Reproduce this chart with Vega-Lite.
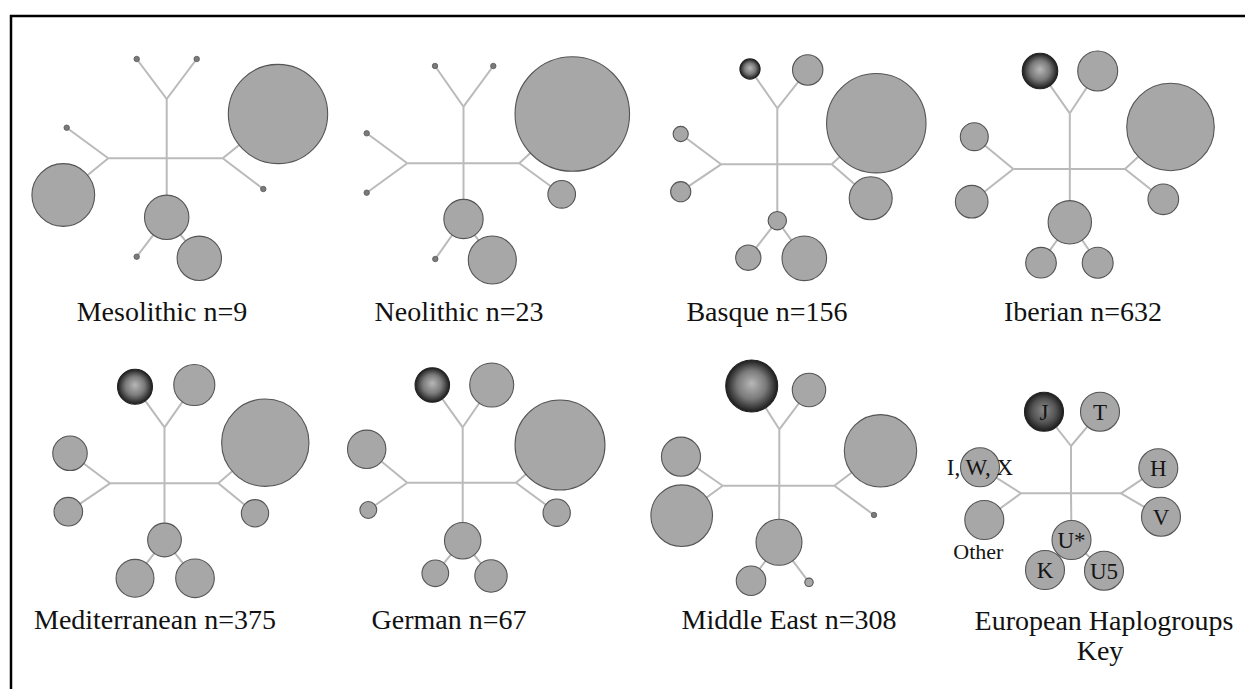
{
  "$schema": "https://vega.github.io/schema/vega-lite/v6.json",
  "width": 1245,
  "height": 689,
  "autosize": {"type": "fit", "contains": "padding"},
  "padding": {"left": 11, "top": 16, "right": -3, "bottom": -3},
  "background": "white",
  "config": {"view": {"stroke": "#000000", "strokeWidth": 2.5}},
  "datasets": {
    "nodes": [
      {"id": "me.hub", "p": "Mesolithic", "x": 166.7, "y": 158.3},
      {"id": "me.tf", "p": "Mesolithic", "parent": "me.hub", "x": 166.7, "y": 99},
      {"id": "me.lf", "p": "Mesolithic", "parent": "me.hub", "x": 108.3, "y": 158.3},
      {"id": "me.rf", "p": "Mesolithic", "parent": "me.hub", "x": 222.7, "y": 158.3},
      {"id": "me.J", "p": "Mesolithic", "hg": "J", "parent": "me.tf", "x": 136.7, "y": 59, "f": 0},
      {"id": "me.T", "p": "Mesolithic", "hg": "T", "parent": "me.tf", "x": 196.7, "y": 59, "f": 0},
      {"id": "me.IWX", "p": "Mesolithic", "hg": "I, W, X", "parent": "me.lf", "x": 66.7, "y": 127.7, "f": 0},
      {"id": "me.O", "p": "Mesolithic", "hg": "Other", "parent": "me.lf", "x": 63.3, "y": 195, "f": 22.2},
      {"id": "me.H", "p": "Mesolithic", "hg": "H", "parent": "me.rf", "x": 278, "y": 114, "f": 55.6},
      {"id": "me.V", "p": "Mesolithic", "hg": "V", "parent": "me.rf", "x": 263.3, "y": 189, "f": 0},
      {"id": "me.U", "p": "Mesolithic", "hg": "U*", "parent": "me.hub", "x": 166.7, "y": 217.3, "f": 11.1},
      {"id": "me.K", "p": "Mesolithic", "hg": "K", "parent": "me.U", "x": 136.7, "y": 256.7, "f": 0},
      {"id": "me.U5", "p": "Mesolithic", "hg": "U5", "parent": "me.U", "x": 199.3, "y": 258.3, "f": 11.1},

      {"id": "ne.hub", "p": "Neolithic", "x": 463.5, "y": 163.3},
      {"id": "ne.tf", "p": "Neolithic", "parent": "ne.hub", "x": 463.5, "y": 106.7},
      {"id": "ne.lf", "p": "Neolithic", "parent": "ne.hub", "x": 407.3, "y": 163.3},
      {"id": "ne.rf", "p": "Neolithic", "parent": "ne.hub", "x": 519.3, "y": 163.3},
      {"id": "ne.J", "p": "Neolithic", "hg": "J", "parent": "ne.tf", "x": 435, "y": 66, "f": 0},
      {"id": "ne.T", "p": "Neolithic", "hg": "T", "parent": "ne.tf", "x": 493.3, "y": 66, "f": 0},
      {"id": "ne.IWX", "p": "Neolithic", "hg": "I, W, X", "parent": "ne.lf", "x": 366.7, "y": 133.3, "f": 0},
      {"id": "ne.O", "p": "Neolithic", "hg": "Other", "parent": "ne.lf", "x": 366.7, "y": 192.7, "f": 0},
      {"id": "ne.H", "p": "Neolithic", "hg": "H", "parent": "ne.rf", "x": 572.3, "y": 114, "f": 73.9},
      {"id": "ne.V", "p": "Neolithic", "hg": "V", "parent": "ne.rf", "x": 561.7, "y": 194.3, "f": 4.3},
      {"id": "ne.U", "p": "Neolithic", "hg": "U*", "parent": "ne.hub", "x": 463.5, "y": 219, "f": 8.7},
      {"id": "ne.K", "p": "Neolithic", "hg": "K", "parent": "ne.U", "x": 435.3, "y": 259, "f": 0},
      {"id": "ne.U5", "p": "Neolithic", "hg": "U5", "parent": "ne.U", "x": 492.3, "y": 260, "f": 13.0},

      {"id": "ba.hub", "p": "Basque", "x": 777.3, "y": 164.3},
      {"id": "ba.tf", "p": "Basque", "parent": "ba.hub", "x": 777.3, "y": 108.3},
      {"id": "ba.lf", "p": "Basque", "parent": "ba.hub", "x": 721, "y": 164.3},
      {"id": "ba.rf", "p": "Basque", "parent": "ba.hub", "x": 831.7, "y": 164.3},
      {"id": "ba.J", "p": "Basque", "hg": "J", "parent": "ba.tf", "x": 750, "y": 69, "f": 2.3},
      {"id": "ba.T", "p": "Basque", "hg": "T", "parent": "ba.tf", "x": 807.7, "y": 70, "f": 5.2},
      {"id": "ba.IWX", "p": "Basque", "hg": "I, W, X", "parent": "ba.lf", "x": 680.7, "y": 134, "f": 1.3},
      {"id": "ba.O", "p": "Basque", "hg": "Other", "parent": "ba.lf", "x": 680.7, "y": 191.7, "f": 2.3},
      {"id": "ba.H", "p": "Basque", "hg": "H", "parent": "ba.rf", "x": 876.3, "y": 123.2, "f": 55.7},
      {"id": "ba.V", "p": "Basque", "hg": "V", "parent": "ba.rf", "x": 870.7, "y": 198.3, "f": 10.4},
      {"id": "ba.U", "p": "Basque", "hg": "U*", "parent": "ba.hub", "x": 777.3, "y": 220.7, "f": 1.9},
      {"id": "ba.K", "p": "Basque", "hg": "K", "parent": "ba.U", "x": 748.3, "y": 257.7, "f": 3.6},
      {"id": "ba.U5", "p": "Basque", "hg": "U5", "parent": "ba.U", "x": 804.3, "y": 258.3, "f": 11.2},

      {"id": "ib.hub", "p": "Iberian", "x": 1069.8, "y": 169},
      {"id": "ib.tf", "p": "Iberian", "parent": "ib.hub", "x": 1069.8, "y": 113.3},
      {"id": "ib.lf", "p": "Iberian", "parent": "ib.hub", "x": 1013.3, "y": 169},
      {"id": "ib.rf", "p": "Iberian", "parent": "ib.hub", "x": 1125, "y": 169},
      {"id": "ib.J", "p": "Iberian", "hg": "J", "parent": "ib.tf", "x": 1040, "y": 71, "f": 7.1},
      {"id": "ib.T", "p": "Iberian", "hg": "T", "parent": "ib.tf", "x": 1097.7, "y": 71, "f": 9.0},
      {"id": "ib.IWX", "p": "Iberian", "hg": "I, W, X", "parent": "ib.lf", "x": 974.3, "y": 136.7, "f": 4.4},
      {"id": "ib.O", "p": "Iberian", "hg": "Other", "parent": "ib.lf", "x": 971.7, "y": 201.7, "f": 6.0},
      {"id": "ib.H", "p": "Iberian", "hg": "H", "parent": "ib.rf", "x": 1170.5, "y": 127, "f": 43.2},
      {"id": "ib.V", "p": "Iberian", "hg": "V", "parent": "ib.rf", "x": 1163.3, "y": 199.3, "f": 5.3},
      {"id": "ib.U", "p": "Iberian", "hg": "U*", "parent": "ib.hub", "x": 1069.8, "y": 222.3, "f": 10.6},
      {"id": "ib.K", "p": "Iberian", "hg": "K", "parent": "ib.U", "x": 1041, "y": 262.7, "f": 5.3},
      {"id": "ib.U5", "p": "Iberian", "hg": "U5", "parent": "ib.U", "x": 1097.7, "y": 262.7, "f": 5.4},

      {"id": "md.hub", "p": "Mediterranean", "x": 164.5, "y": 483.3},
      {"id": "md.tf", "p": "Mediterranean", "parent": "md.hub", "x": 164.5, "y": 427.3},
      {"id": "md.lf", "p": "Mediterranean", "parent": "md.hub", "x": 110, "y": 483.3},
      {"id": "md.rf", "p": "Mediterranean", "parent": "md.hub", "x": 218.3, "y": 483.3},
      {"id": "md.J", "p": "Mediterranean", "hg": "J", "parent": "md.tf", "x": 135, "y": 386.7, "f": 6.9},
      {"id": "md.T", "p": "Mediterranean", "hg": "T", "parent": "md.tf", "x": 194.3, "y": 385, "f": 9.5},
      {"id": "md.IWX", "p": "Mediterranean", "hg": "I, W, X", "parent": "md.lf", "x": 70, "y": 453.3, "f": 6.7},
      {"id": "md.O", "p": "Mediterranean", "hg": "Other", "parent": "md.lf", "x": 68.3, "y": 511.7, "f": 4.6},
      {"id": "md.H", "p": "Mediterranean", "hg": "H", "parent": "md.rf", "x": 265.3, "y": 442.7, "f": 43.0},
      {"id": "md.V", "p": "Mediterranean", "hg": "V", "parent": "md.rf", "x": 255, "y": 513.3, "f": 4.2},
      {"id": "md.U", "p": "Mediterranean", "hg": "U*", "parent": "md.hub", "x": 164.5, "y": 540, "f": 6.4},
      {"id": "md.K", "p": "Mediterranean", "hg": "K", "parent": "md.U", "x": 135, "y": 578.3, "f": 8.1},
      {"id": "md.U5", "p": "Mediterranean", "hg": "U5", "parent": "md.U", "x": 195, "y": 578.3, "f": 8.4},

      {"id": "ge.hub", "p": "German", "x": 462.7, "y": 482.7},
      {"id": "ge.tf", "p": "German", "parent": "ge.hub", "x": 462.7, "y": 427.3},
      {"id": "ge.lf", "p": "German", "parent": "ge.hub", "x": 407.3, "y": 482.7},
      {"id": "ge.rf", "p": "German", "parent": "ge.hub", "x": 516, "y": 482.7},
      {"id": "ge.J", "p": "German", "hg": "J", "parent": "ge.tf", "x": 432.3, "y": 385, "f": 6.7},
      {"id": "ge.T", "p": "German", "hg": "T", "parent": "ge.tf", "x": 491.7, "y": 385, "f": 10.9},
      {"id": "ge.IWX", "p": "German", "hg": "I, W, X", "parent": "ge.lf", "x": 366.7, "y": 449.3, "f": 8.3},
      {"id": "ge.O", "p": "German", "hg": "Other", "parent": "ge.lf", "x": 368.3, "y": 510, "f": 1.6},
      {"id": "ge.H", "p": "German", "hg": "H", "parent": "ge.rf", "x": 560, "y": 445, "f": 45.6},
      {"id": "ge.V", "p": "German", "hg": "V", "parent": "ge.rf", "x": 556.7, "y": 512.7, "f": 4.2},
      {"id": "ge.U", "p": "German", "hg": "U*", "parent": "ge.hub", "x": 462.7, "y": 540.7, "f": 7.5},
      {"id": "ge.K", "p": "German", "hg": "K", "parent": "ge.U", "x": 435.3, "y": 573.3, "f": 4.0},
      {"id": "ge.U5", "p": "German", "hg": "U5", "parent": "ge.U", "x": 491, "y": 576, "f": 5.9},

      {"id": "mi.hub", "p": "Middle East", "x": 779.3, "y": 485.7},
      {"id": "mi.tf", "p": "Middle East", "parent": "mi.hub", "x": 779.3, "y": 429.3},
      {"id": "mi.lf", "p": "Middle East", "parent": "mi.hub", "x": 722.7, "y": 485.7},
      {"id": "mi.rf", "p": "Middle East", "parent": "mi.hub", "x": 834.3, "y": 485.7},
      {"id": "mi.J", "p": "Middle East", "hg": "J", "parent": "mi.tf", "x": 751.7, "y": 386, "f": 15.2},
      {"id": "mi.T", "p": "Middle East", "hg": "T", "parent": "mi.tf", "x": 809, "y": 390, "f": 6.3},
      {"id": "mi.IWX", "p": "Middle East", "hg": "I, W, X", "parent": "mi.lf", "x": 681, "y": 456.7, "f": 8.6},
      {"id": "mi.O", "p": "Middle East", "hg": "Other", "parent": "mi.lf", "x": 681.7, "y": 515.7, "f": 21.4},
      {"id": "mi.H", "p": "Middle East", "hg": "H", "parent": "mi.rf", "x": 880.5, "y": 450.8, "f": 29.5},
      {"id": "mi.V", "p": "Middle East", "hg": "V", "parent": "mi.rf", "x": 874, "y": 515, "f": 0},
      {"id": "mi.U", "p": "Middle East", "hg": "U*", "parent": "mi.hub", "x": 779, "y": 542.3, "f": 11.9},
      {"id": "mi.K", "p": "Middle East", "hg": "K", "parent": "mi.U", "x": 751, "y": 580.7, "f": 4.9},
      {"id": "mi.U5", "p": "Middle East", "hg": "U5", "parent": "mi.U", "x": 809, "y": 582.3, "f": 0.4},

      {"id": "ky.hub", "p": "Key", "x": 1071, "y": 493.3},
      {"id": "ky.tf", "p": "Key", "parent": "ky.hub", "x": 1071, "y": 446},
      {"id": "ky.lf", "p": "Key", "parent": "ky.hub", "x": 1021, "y": 493.3},
      {"id": "ky.rf", "p": "Key", "parent": "ky.hub", "x": 1121, "y": 493.3},
      {"id": "ky.J", "p": "Key", "hg": "J", "parent": "ky.tf", "x": 1044, "y": 411.7},
      {"id": "ky.T", "p": "Key", "hg": "T", "parent": "ky.tf", "x": 1100, "y": 411.7},
      {"id": "ky.IWX", "p": "Key", "hg": "I, W, X", "parent": "ky.lf", "x": 980, "y": 467.3},
      {"id": "ky.O", "p": "Key", "hg": "Other", "parent": "ky.lf", "x": 984.3, "y": 520},
      {"id": "ky.H", "p": "Key", "hg": "H", "parent": "ky.rf", "x": 1158.3, "y": 468.3},
      {"id": "ky.V", "p": "Key", "hg": "V", "parent": "ky.rf", "x": 1161, "y": 516.7},
      {"id": "ky.U", "p": "Key", "hg": "U*", "parent": "ky.hub", "x": 1071.5, "y": 540},
      {"id": "ky.K", "p": "Key", "hg": "K", "parent": "ky.U", "x": 1045, "y": 570},
      {"id": "ky.U5", "p": "Key", "hg": "U5", "parent": "ky.U", "x": 1104, "y": 570.7}
    ],
    "labels": [
      {"t": "Mesolithic n=9", "x": 162, "y": 321},
      {"t": "Neolithic n=23", "x": 459, "y": 321},
      {"t": "Basque n=156", "x": 767, "y": 321},
      {"t": "Iberian n=632", "x": 1083, "y": 321},
      {"t": "Mediterranean n=375", "x": 155, "y": 629},
      {"t": "German n=67", "x": 449, "y": 629},
      {"t": "Middle East n=308", "x": 789, "y": 629},
      {"t": "European Haplogroups", "x": 1104, "y": 630},
      {"t": "Key", "x": 1100, "y": 660}
    ]
  },
  "data": {"name": "nodes"},
  "encoding": {
    "x": {"field": "x", "type": "quantitative", "scale": {"domain": [11, 1248], "nice": false, "zero": false}, "axis": null},
    "y": {"field": "y", "type": "quantitative", "scale": {"domain": [16, 692], "reverse": true, "nice": false, "zero": false}, "axis": null}
  },
  "layer": [
    {
      "transform": [
        {"filter": "isValid(datum.parent)"},
        {"lookup": "parent", "from": {"data": {"name": "nodes"}, "key": "id", "fields": ["x", "y"]}, "as": ["px", "py"]}
      ],
      "mark": {"type": "rule", "color": "#bababa", "strokeWidth": 2},
      "encoding": {"x2": {"field": "px"}, "y2": {"field": "py"}}
    },
    {
      "transform": [{"filter": "datum.f > 0 && datum.hg != 'J'"}],
      "mark": {"type": "point", "shape": "circle", "filled": true, "fill": "#a7a7a7", "stroke": "#555555", "strokeWidth": 1.1, "opacity": 1},
      "encoding": {
        "size": {"field": "f", "type": "quantitative", "scale": {"type": "linear", "domain": [0, 100], "range": [0, 17748], "zero": true}, "legend": null}
      }
    },
    {
      "transform": [{"filter": "datum.f > 0 && datum.hg == 'J'"}],
      "mark": {"type": "point", "shape": "circle", "filled": true, "stroke": "#222222", "strokeWidth": 1.1, "opacity": 1,
        "fill": {"gradient": "radial", "x1": 0.5, "y1": 0.45, "r1": 0, "x2": 0.5, "y2": 0.5, "r2": 0.5,
          "stops": [{"offset": 0, "color": "#b8b8b8"}, {"offset": 0.55, "color": "#7a7a7a"}, {"offset": 1, "color": "#1c1c1c"}]}},
      "encoding": {
        "size": {"field": "f", "type": "quantitative", "legend": null}
      }
    },
    {
      "transform": [{"filter": "datum.f === 0"}],
      "mark": {"type": "point", "shape": "circle", "filled": true, "fill": "#7a7a7a", "stroke": "#5a5a5a", "strokeWidth": 0.8, "opacity": 1, "size": 30}
    },
    {
      "transform": [{"filter": "datum.p == 'Key' && isValid(datum.hg) && datum.hg != 'J'"}],
      "mark": {"type": "point", "shape": "circle", "filled": true, "fill": "#a7a7a7", "stroke": "#555555", "strokeWidth": 1.1, "opacity": 1, "size": 1521}
    },
    {
      "transform": [{"filter": "datum.p == 'Key' && datum.hg == 'J'"}],
      "mark": {"type": "point", "shape": "circle", "filled": true, "stroke": "#222222", "strokeWidth": 1.1, "opacity": 1, "size": 1521,
        "fill": {"gradient": "radial", "x1": 0.5, "y1": 0.45, "r1": 0, "x2": 0.5, "y2": 0.5, "r2": 0.5,
          "stops": [{"offset": 0, "color": "#8a8a8a"}, {"offset": 0.6, "color": "#555555"}, {"offset": 1, "color": "#1c1c1c"}]}}
    },
    {
      "transform": [{"filter": "datum.p == 'Key' && isValid(datum.hg) && datum.hg != 'Other'"}],
      "mark": {"type": "text", "font": "Liberation Serif", "fontSize": 23, "color": "#151515", "align": "center", "baseline": "middle", "dy": 1},
      "encoding": {"text": {"field": "hg"}}
    },
    {
      "transform": [{"filter": "datum.p == 'Key' && datum.hg == 'Other'"}],
      "mark": {"type": "text", "font": "Liberation Serif", "fontSize": 22, "color": "#151515", "align": "center", "baseline": "middle", "dx": -6, "dy": 32},
      "encoding": {"text": {"field": "hg"}}
    },
    {
      "data": {"name": "labels"},
      "mark": {"type": "text", "font": "Liberation Serif", "fontSize": 28, "color": "#111111", "align": "center", "baseline": "alphabetic"},
      "encoding": {"text": {"field": "t"}}
    }
  ]
}
